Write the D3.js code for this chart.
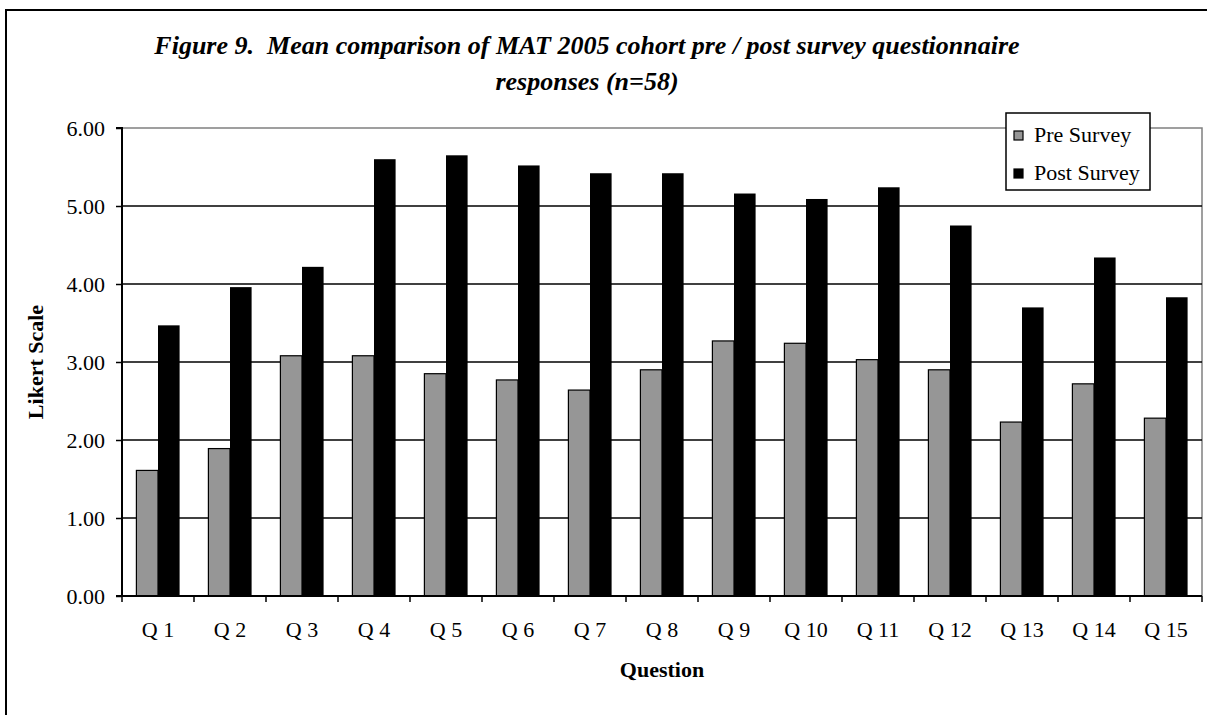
<!DOCTYPE html>
<html>
<head>
<meta charset="utf-8">
<script src="https://cdn.jsdelivr.net/npm/d3@7/dist/d3.min.js"></script>
<style>
  html, body { margin: 0; padding: 0; background: #fff; }
  svg { display: block; font-family: "Liberation Serif", "Times New Roman", serif; }
</style>
</head>
<body>
<svg id="chart" width="1207" height="715"></svg>
<script>
// Survey questions and mean Likert ratings
const questions = ["Q 1", "Q 2", "Q 3", "Q 4", "Q 5", "Q 6", "Q 7", "Q 8",
                   "Q 9", "Q 10", "Q 11", "Q 12", "Q 13", "Q 14", "Q 15"];
const seriesNames = ["Pre Survey", "Post Survey"];
const preSurvey  = [1.61, 1.89, 3.08, 3.08, 2.85, 2.77, 2.64, 2.90, 3.27, 3.24, 3.03, 2.90, 2.23, 2.72, 2.28];
const postSurvey = [3.47, 3.96, 4.22, 5.60, 5.65, 5.52, 5.42, 5.42, 5.16, 5.09, 5.24, 4.75, 3.70, 4.34, 3.83];
const yTicks = [0, 1, 2, 3, 4, 5, 6];
const titleLines = ["Figure 9.  Mean comparison of MAT 2005 cohort pre / post survey questionnaire",
                    "responses (n=58)"];

const seriesValues = { "Pre Survey": preSurvey, "Post Survey": postSurvey };
const seriesFill = { "Pre Survey": "#969696", "Post Survey": "#000000" };

const svg = d3.select("#chart");

// outer chart frame
svg.append("rect")
  .attr("x", 6).attr("y", 10)
  .attr("width", 1260).attr("height", 760)
  .attr("fill", "none").attr("stroke", "#000").attr("stroke-width", 2);

const plot = { left: 122, right: 1202, top: 128, bottom: 596 };

const x = d3.scaleBand().domain(questions).range([plot.left, plot.right]).padding(0);
const bw = x.bandwidth();
const xSub = d3.scaleBand().domain(seriesNames).range([bw * 0.2, bw * 0.8]).padding(0);
const y = d3.scaleLinear().domain([0, 6]).range([plot.bottom, plot.top]);

// plot-area frame (top and right edges)
svg.append("path")
  .attr("d", `M${plot.left},${y(6)}H${plot.right}V${plot.bottom}`)
  .attr("fill", "none").attr("stroke", "#808080").attr("stroke-width", 1.5);

// horizontal gridlines
svg.append("g")
  .selectAll("line")
  .data(yTicks.filter(t => t > 0 && t < 6))
  .join("line")
  .attr("x1", plot.left).attr("x2", plot.right)
  .attr("y1", d => y(d)).attr("y2", d => y(d))
  .attr("stroke", "#000").attr("stroke-width", 1.3);

// bars
const groups = svg.append("g")
  .selectAll("g")
  .data(questions)
  .join("g")
  .attr("transform", d => `translate(${x(d)},0)`);

groups.selectAll("rect")
  .data((q, i) => seriesNames.map(s => ({ s, v: seriesValues[s][i] })))
  .join("rect")
  .attr("x", d => xSub(d.s))
  .attr("y", d => y(d.v))
  .attr("width", xSub.bandwidth())
  .attr("height", d => y(0) - y(d.v))
  .attr("fill", d => seriesFill[d.s])
  .attr("stroke", "#000")
  .attr("stroke-width", d => d.s === "Pre Survey" ? 1.2 : 0);

// y axis
const yAxis = d3.axisLeft(y)
  .tickValues(yTicks)
  .tickFormat(d3.format(".2f"))
  .tickSize(6)
  .tickPadding(11);
const gy = svg.append("g").attr("transform", `translate(${plot.left},0)`).call(yAxis);
gy.select(".domain").attr("stroke", "#000").attr("stroke-width", 2).attr("d", `M-6,${y(6)}H0V${y(0)}H-6`);
gy.selectAll(".tick line").attr("stroke", "#000").attr("stroke-width", 1.5);
gy.selectAll(".tick text")
  .attr("font-family", "Liberation Serif, Times New Roman, serif")
  .attr("font-size", 22).attr("fill", "#000");

// x axis: ticks at category boundaries
const gx = svg.append("g").attr("transform", `translate(0,${plot.bottom})`);
gx.append("line")
  .attr("x1", plot.left).attr("x2", plot.right)
  .attr("stroke", "#000").attr("stroke-width", 2);
const boundaries = questions.map(q => x(q)).concat([x(questions[questions.length - 1]) + bw]);
gx.selectAll("line.tick")
  .data(boundaries)
  .join("line")
  .attr("class", "tick")
  .attr("x1", d => d).attr("x2", d => d)
  .attr("y1", 0).attr("y2", 6)
  .attr("stroke", "#000").attr("stroke-width", 1.5);
gx.selectAll("text")
  .data(questions)
  .join("text")
  .attr("x", d => x(d) + bw / 2)
  .attr("y", 41)
  .attr("text-anchor", "middle")
  .attr("font-size", 22)
  .text(d => d);

// axis titles
svg.append("text")
  .attr("x", (plot.left + plot.right) / 2).attr("y", 677)
  .attr("text-anchor", "middle")
  .attr("font-size", 22).attr("font-weight", "bold")
  .text("Question");

svg.append("text")
  .attr("transform", `translate(43,${(plot.top + plot.bottom) / 2}) rotate(-90)`)
  .attr("text-anchor", "middle")
  .attr("font-size", 22).attr("font-weight", "bold")
  .text("Likert Scale");

// title, two centred lines
svg.append("g")
  .selectAll("text")
  .data(titleLines)
  .join("text")
  .attr("x", 587)
  .attr("y", (d, i) => 54 + i * 36)
  .attr("text-anchor", "middle")
  .attr("xml:space", "preserve")
  .style("white-space", "pre")
  .attr("font-size", 26).attr("font-weight", "bold").attr("font-style", "italic")
  .text(d => d);

// legend
const legend = svg.append("g").attr("transform", "translate(1006,113)");
legend.append("rect")
  .attr("width", 144).attr("height", 77)
  .attr("fill", "#fff").attr("stroke", "#000").attr("stroke-width", 1.5);
const items = legend.selectAll("g.item")
  .data(seriesNames)
  .join("g")
  .attr("class", "item")
  .attr("transform", (d, i) => `translate(8,${22 + i * 38})`);
items.append("rect")
  .attr("x", 0).attr("y", -4).attr("width", 9).attr("height", 9)
  .attr("fill", d => seriesFill[d])
  .attr("stroke", "#000").attr("stroke-width", 1.2);
items.append("text")
  .attr("x", 20).attr("y", 7)
  .attr("font-size", 22)
  .text(d => d);
</script>
</body>
</html>
